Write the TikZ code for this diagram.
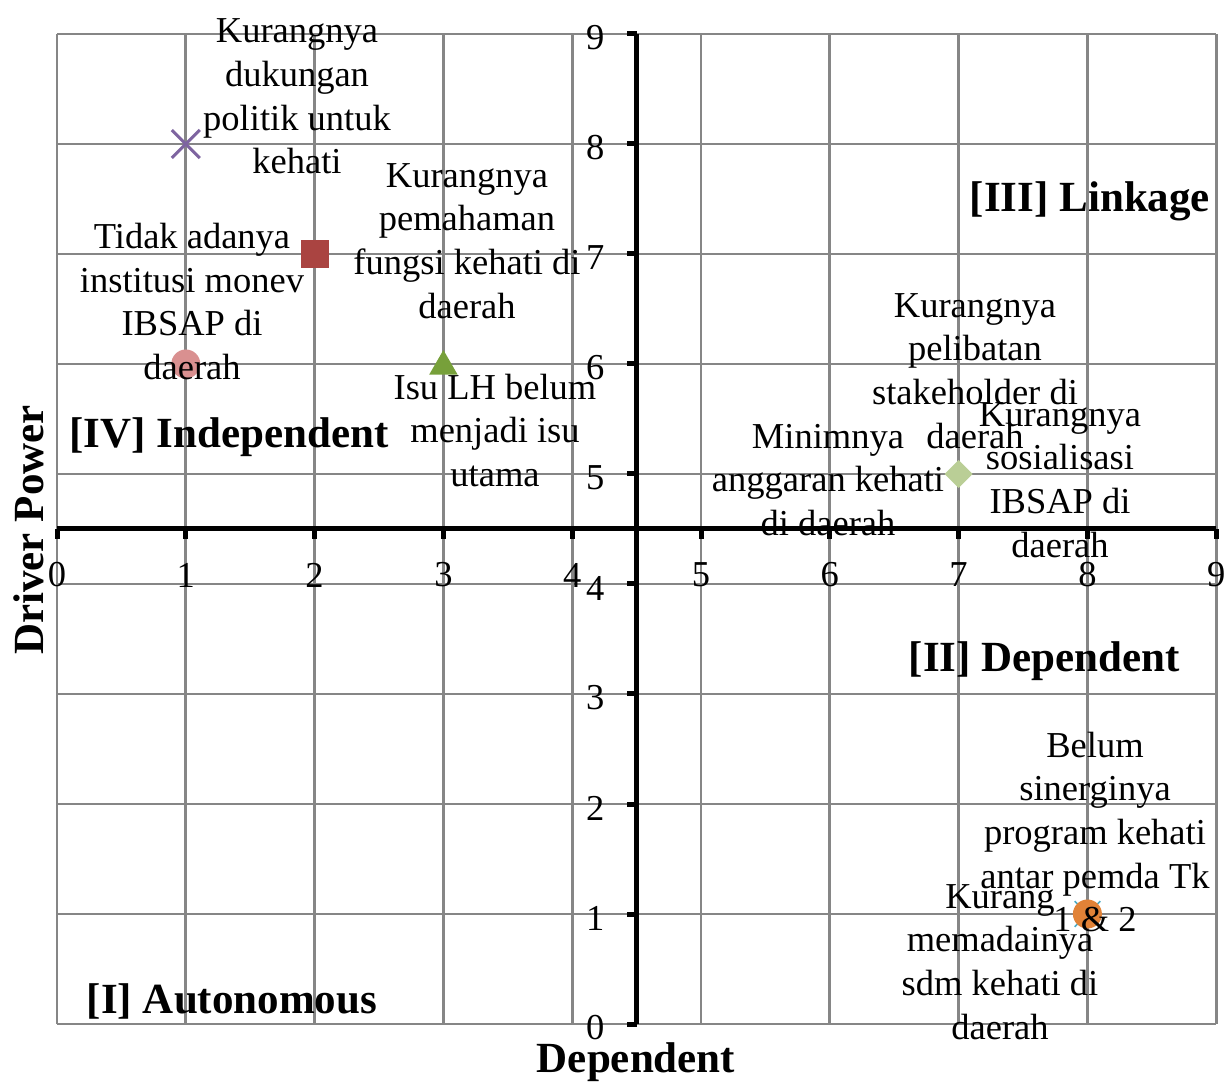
\documentclass[tikz,border=0pt]{standalone}
\usepackage{fontspec}
\setmainfont{Liberation Serif}
\usetikzlibrary{shapes.geometric,shapes.misc}

\definecolor{gridgray}{RGB}{134,134,134}
\definecolor{purplemk}{RGB}{126,100,160}
\definecolor{redmk}{RGB}{170,68,65}
\definecolor{pinkmk}{RGB}{217,144,144}
\definecolor{greenmk}{RGB}{119,160,58}
\definecolor{lgreenmk}{RGB}{186,206,150}
\definecolor{orangemk}{RGB}{225,130,55}
\definecolor{cyanmk}{RGB}{75,172,198}

\tikzset{
  gridline/.style={draw=gridgray, line width=2.8pt},
  axisline/.style={draw=black, line width=5pt},
  lbl/.style={font=\fontsize{36.5}{43.7}\selectfont, align=center, inner sep=0pt},
  ticklbl/.style={font=\fontsize{36.5}{43.7}\selectfont, inner sep=0pt},
  quad/.style={font=\fontsize{43}{50}\selectfont\bfseries, inner sep=0pt},
  xmark/.style={cross out, draw=purplemk, line width=3pt, minimum size=25pt, inner sep=0pt},
  sqmark/.style={rectangle, fill=redmk, minimum size=28pt, inner sep=0pt},
  dotmark/.style={circle, minimum size=29pt, inner sep=0pt},
  trimark/.style={regular polygon, regular polygon sides=3, fill=greenmk, minimum size=33pt, inner sep=0pt},
  dmmark/.style={diamond, fill=lgreenmk, minimum width=28pt, minimum height=28pt, inner sep=0pt},
}

\begin{document}
\begin{tikzpicture}[x=128.8pt, y=110pt]
\useasboundingbox (-57pt,-58pt) rectangle (1168pt,1024pt);

% grid
\foreach \i in {0,...,9} {
  \draw[gridline] (\i,0) -- (\i,9);
  \draw[gridline] (0,\i) -- (9,\i);
}

% crossing axes with ticks
\draw[axisline] (0,4.5) -- (9,4.5);
\draw[axisline] (4.5,0) -- (4.5,9);
\foreach \i in {0,...,9} {
  \draw[axisline] (\i,4.5) -- ++(0pt,-10pt);
  \draw[axisline] (4.5,\i) -- ++(-10pt,0pt);
  \node[ticklbl, yshift=-46pt] (xt\i) at (\i,4.5) {\i};
  \node[ticklbl, anchor=east, xshift=-32pt, yshift=-4pt] (yt\i) at (4.5,\i) {\i};
}

% data markers
\node[xmark] (m1) at (1,8) {};
\node[sqmark] (m2) at (2,7) {};
\node[dotmark, fill=pinkmk] (m3) at (1,6) {};
\node[trimark, yshift=-2.5pt] (m4) at (3,6) {};
\node[dmmark] (m5) at (7,5) {};
\node[cross out, draw=cyanmk, line width=1.6pt, minimum size=24pt, inner sep=0pt] (m6) at (8,1) {};
\node[dotmark, fill=orangemk] (m7) at (8,1) {};

% data labels
\node[lbl] (t1) at (240pt,927.5pt) {Kurangnya\\dukungan\\politik untuk\\kehati};
\node[lbl] (t2) at (135pt,722.5pt) {Tidak adanya\\institusi monev\\IBSAP di\\daerah};
\node[lbl] (t3) at (410pt,783pt) {Kurangnya\\pemahaman\\fungsi kehati di\\daerah};
\node[lbl] (t4) at (438pt,593.5pt) {Isu LH belum\\menjadi isu\\utama};
\node[lbl] (t5) at (918pt,653pt) {Kurangnya\\pelibatan\\stakeholder di\\daerah};
\node[lbl] (t6) at (771pt,544pt) {Minimnya\\anggaran kehati\\di daerah};
\node[lbl] (t7) at (1003pt,544pt) {Kurangnya\\sosialisasi\\IBSAP di\\daerah};
\node[lbl] (t8) at (1038pt,192pt) {Belum\\sinerginya\\program kehati\\antar pemda Tk\\1 \& 2};
\node[lbl] (t9) at (943pt,62pt) {Kurang\\memadainya\\sdm kehati di\\daerah};

% quadrant names
\node[quad] (q3) at (1033pt,822.5pt) {[III] Linkage};
\node[quad] (q4) at (172pt,586.5pt) {[IV] Independent};
\node[quad] (q2) at (987.5pt,362.5pt) {[II] Dependent};
\node[quad] (q1) at (175pt,22.5pt) {[I] Autonomous};

% axis titles
\node[quad, rotate=90] (ylab) at (-28.5pt,494pt) {Driver Power};
\node[quad] (xlab) at (579pt,-38pt) {Dependent};
\end{tikzpicture}
\end{document}
